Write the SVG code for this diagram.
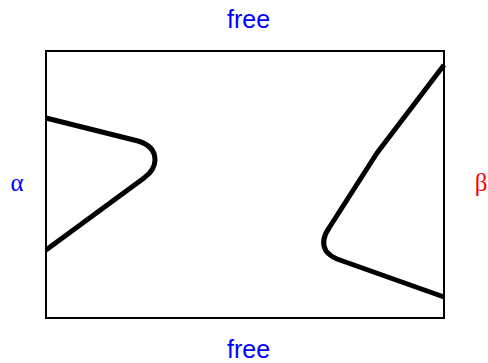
<svg xmlns="http://www.w3.org/2000/svg" width="488" height="363" viewBox="0 0 488 363">
<style>
.lbl{font-family:"Liberation Sans",Arial,sans-serif;font-size:25px;text-anchor:middle}
.greek{font-family:"Liberation Serif","Times New Roman",serif;font-size:25px;text-anchor:middle}
.curve{fill:none;stroke:#000;stroke-width:5;stroke-linejoin:round}
</style>
<rect x="0" y="0" width="488" height="363" fill="#fff"/>
<g id="domain">
<rect x="46" y="51" width="398" height="267" fill="none" stroke="#000" stroke-width="2"/>
</g>
<g id="curves">
<path class="curve" d="M46,118 L138,141 Q155,146 155,160 Q155,170 144,178 L46,250"/>
<path class="curve" d="M444,65 L377,153 L329,228 Q320,241 326,251 Q330,256 337,259 L444,297"/>
</g>
<g id="labels">
<text class="lbl" x="248.5" y="28" fill="#0000ff">free</text>
<text class="lbl" x="248.5" y="358" fill="#0000ff">free</text>
<text class="greek" x="17" y="191" fill="#0000ff">α</text>
<text class="greek" x="481" y="191" fill="#ff0000">β</text>
</g>
</svg>
